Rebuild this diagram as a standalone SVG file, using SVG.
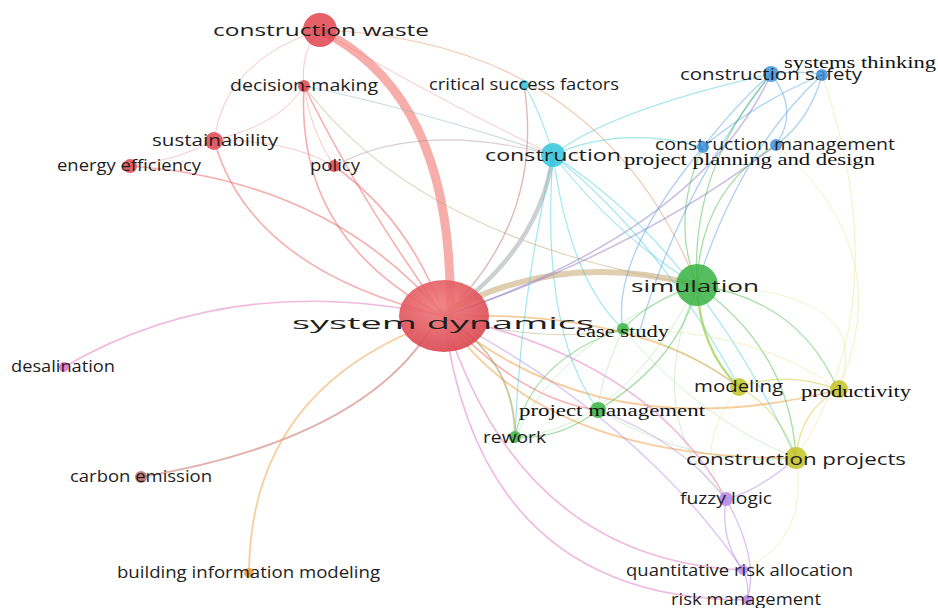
<svg xmlns="http://www.w3.org/2000/svg" width="938" height="608" viewBox="0 0 938 608">
<defs>
<style>
.e{fill:none;stroke-linecap:round}
.r{stroke:#f06b6b;stroke-opacity:.55;stroke-width:1.6}
.rt{stroke:#f07575;stroke-opacity:.4;stroke-width:1}
.c{stroke:#45cfe0;stroke-opacity:.5;stroke-width:1.2}
.b{stroke:#5aa6ea;stroke-opacity:.5;stroke-width:1.3}
.pb{stroke:#9a7fc8;stroke-opacity:.5;stroke-width:1.6}
.g{stroke:#4dbf4d;stroke-opacity:.5;stroke-width:1.3}
.gl{stroke:#7ed27e;stroke-opacity:.35;stroke-width:1}
.y{stroke:#cfd040;stroke-opacity:.55;stroke-width:1.3}
.yl{stroke:#dede70;stroke-opacity:.4;stroke-width:1}
.p{stroke:#b683ea;stroke-opacity:.5;stroke-width:1.3}
.pk{stroke:#e37fc6;stroke-opacity:.55;stroke-width:1.6}
.o{stroke:#f4a24a;stroke-opacity:.55;stroke-width:1.8}
.t{stroke:#b9a66a;stroke-opacity:.5;stroke-width:1.1}
.red{fill:#e0444e;fill-opacity:.85}
.cy{fill:#33c4da;fill-opacity:.85}
.bl{fill:#3f92dc;fill-opacity:.85}
.gr{fill:#39b343;fill-opacity:.85}
.ye{fill:#c3c324;fill-opacity:.85}
.pu{fill:#b585ea;fill-opacity:.85}
.pi{fill:#df6cd0;fill-opacity:.85}
.br{fill:#b86a66;fill-opacity:.85}
.or{fill:#f2a03a;fill-opacity:.9}
text{font-family:"Open Sans","Noto Sans","Liberation Sans",sans-serif;fill:#1e1e1e;font-size:16px}
text.s{font-family:"Liberation Serif","Times New Roman",serif;fill:#111}
</style>
<radialGradient id="sdg" cx="0.45" cy="0.35" r="0.7">
<stop offset="0" stop-color="#f07a7a"/>
<stop offset="1" stop-color="#d8404c"/>
</radialGradient>
</defs>
<rect width="938" height="608" fill="#ffffff"/>
<g id="connectors">
<path class="e" d="M320,30 Q455,95 450,316" stroke="#f4928c" stroke-opacity=".75" stroke-width="9"/>
<path class="e rt" d="M320,30 Q300,50 304,86"/>
<path class="e rt" d="M320,30 Q225,60 214,140"/>
<path class="e rt" d="M320,30 Q420,90 553,155"/>
<path class="e" d="M320,30 Q600,40 697,285" stroke="#e9a27a" stroke-opacity=".6" stroke-width="1.2"/>
<path class="e rt" d="M304,86 Q280,125 214,140"/>
<path class="e rt" d="M304,86 Q310,130 334,166"/>
<path class="e r" d="M304,86 Q295,240 444,316"/>
<path class="e r" d="M304,86 Q360,200 444,316"/>
<path class="e t" d="M304,86 Q420,240 697,285"/>
<path class="e" d="M304,86 Q420,110 553,155" stroke="#8fb8bd" stroke-opacity=".5" stroke-width="1.2"/>
<path class="e rt" d="M214,140 Q290,140 334,166"/>
<path class="e" d="M334,166 Q420,120 553,155" stroke="#bb9fa0" stroke-opacity=".5" stroke-width="1.2"/>
<path class="e rt" d="M214,140 Q180,160 130,166"/>
<path class="e r" d="M214,140 Q250,270 444,316" stroke-width="3"/>
<path class="e r" d="M130,166 Q330,180 444,316" stroke-width="2.2"/>
<path class="e r" d="M334,166 Q410,220 444,316" stroke-width="2.2"/>
<path class="e pk" d="M64,367 Q230,270 444,316" stroke-width="2"/>
<path class="e" d="M141,477 Q360,440 430,330" stroke="#d07a72" stroke-opacity=".6" stroke-width="2"/>
<path class="e o" d="M249,573 Q250,400 415,330" stroke-width="2.2"/>
<path class="e" d="M553,155 Q540,250 444,316" stroke="#c4c8c8" stroke-opacity=".85" stroke-width="4.5"/>
<path class="e" d="M450,310 Q560,250 697,285" stroke="#d2b98f" stroke-opacity=".7" stroke-width="6"/>
<path class="e t" d="M444,316 Q540,345 623,329" stroke-width="1.6"/>
<path class="e o" d="M444,316 Q640,310 739,387" stroke-width="2.5"/>
<path class="e o" d="M444,316 Q600,450 838,390" stroke-width="2.5"/>
<path class="e o" d="M444,316 Q540,460 796,458" stroke-width="5"/>
<path class="e r" d="M444,316 Q520,400 598,410" stroke-width="2"/>
<path class="e" d="M444,316 Q515,360 515,437" stroke="#a9a86a" stroke-opacity=".6" stroke-width="2"/>
<path class="e pk" d="M444,316 Q650,360 726,499" stroke-width="2"/>
<path class="e pk" d="M444,316 Q520,560 743,570" stroke="#e57a9e" stroke-width="1.8"/>
<path class="e pk" d="M444,316 Q480,600 747,600" stroke="#e57a9e" stroke-width="1.8"/>
<path class="e pb" d="M444,316 Q640,250 776,145"/>
<path class="e pb" d="M444,316 Q700,230 771,74" stroke-width="1.3"/>
<path class="e" d="M524,85 Q545,220 444,316" stroke="#c98a86" stroke-opacity=".6" stroke-width="1.4"/>
<path class="e c" d="M553,155 Q540,110 524,85"/>
<path class="e c" d="M553,155 Q620,125 703,147" stroke-width="1.8"/>
<path class="e c" d="M553,155 Q610,110 771,74"/>
<path class="e c" d="M553,155 Q620,240 697,285"/>
<path class="e c" d="M553,155 Q570,280 623,329"/>
<path class="e c" d="M553,155 Q540,330 598,410"/>
<path class="e c" d="M553,155 Q700,250 796,458" stroke-width="1"/>
<path class="e c" d="M553,155 Q660,240 739,387" stroke-width="1"/>
<path class="e c" d="M553,155 Q520,300 515,437" stroke-width="1"/>
<path class="e b" d="M703,147 Q740,100 771,74" stroke-width="1.6"/>
<path class="e b" d="M771,74 Q800,70 822,75"/>
<path class="e b" d="M771,74 Q800,110 776,145"/>
<path class="e b" d="M822,75 Q810,120 776,145"/>
<path class="e b" d="M822,75 Q760,100 703,147"/>
<path class="e b" d="M822,75 Q740,150 697,285" stroke-width="1"/>
<path class="e b" d="M771,74 Q680,190 640,330" stroke-width="1"/>
<path class="e b" d="M703,147 Q610,260 623,329" stroke-width="1"/>
<path class="e g" d="M771,74 Q690,170 697,285"/>
<path class="e g" d="M776,145 Q700,190 697,285"/>
<path class="e g" d="M703,147 Q670,220 697,285"/>
<path class="e g" d="M697,285 Q650,300 623,329"/>
<path class="e" d="M697,285 Q700,350 739,387" stroke="#9ccc4a" stroke-opacity=".7" stroke-width="2.5"/>
<path class="e g" d="M697,285 Q800,300 838,390" stroke-width="1.8"/>
<path class="e g" d="M697,285 Q790,350 796,458" stroke-width="2.2"/>
<path class="e g" d="M598,410 Q680,360 697,285" stroke-width="1.6"/>
<path class="e g" d="M515,437 Q530,360 623,329"/>
<path class="e g" d="M515,437 Q560,440 598,410"/>
<path class="e gl" d="M515,437 Q620,430 697,285"/>
<path class="e gl" d="M697,285 Q640,420 726,499"/>
<path class="e gl" d="M623,329 Q700,420 796,458"/>
<path class="e gl" d="M598,410 Q700,470 796,458"/>
<path class="e gl" d="M623,329 Q690,350 739,387"/>
<path class="e gl" d="M623,329 Q600,380 598,410"/>
<path class="e gl" d="M697,285 Q560,340 515,437"/>
<path class="e y" d="M739,387 Q790,370 838,390"/>
<path class="e y" d="M739,387 Q780,410 796,458"/>
<path class="e y" d="M838,390 Q800,410 796,458"/>
<path class="e yl" d="M697,285 Q880,290 838,390"/>
<path class="e yl" d="M776,145 Q900,250 838,390"/>
<path class="e yl" d="M822,75 Q900,300 796,458"/>
<path class="e yl" d="M623,329 Q760,330 838,390"/>
<path class="e yl" d="M739,387 Q690,450 726,499"/>
<path class="e yl" d="M796,458 Q810,540 743,570"/>
<path class="e p" d="M796,458 Q760,490 726,499" stroke-opacity=".35"/>
<path class="e p" d="M726,499 Q720,540 743,570"/>
<path class="e p" d="M726,499 Q760,560 747,600"/>
<path class="e p" d="M743,570 Q750,585 747,600"/>
<path class="e p" d="M598,410 Q680,440 726,499" stroke-width="1" stroke-opacity=".35"/>
<path class="e p" d="M444,316 Q640,420 743,570" stroke-width="1" stroke-opacity=".35"/>
</g>
<g id="n-construction-waste"><circle class="red" cx="320" cy="30" r="17"/><text x="213" y="36" font-size="22" textLength="216" lengthAdjust="spacingAndGlyphs">construction waste</text></g>
<g id="n-decision-making"><circle class="red" cx="304" cy="86" r="6"/><text x="230" y="91" textLength="148" lengthAdjust="spacingAndGlyphs">decision-making</text></g>
<g id="n-critical-success-factors"><circle class="cy" cx="524" cy="85" r="5"/><text x="429" y="90" textLength="190" lengthAdjust="spacingAndGlyphs">critical success factors</text></g>
<g id="n-sustainability"><circle class="red" cx="214" cy="141" r="9"/><text x="152" y="146" font-size="18" textLength="126" lengthAdjust="spacingAndGlyphs">sustainability</text></g>
<g id="n-energy-efficiency"><circle class="red" cx="130" cy="166" r="7"/><text x="57" y="171" textLength="144" lengthAdjust="spacingAndGlyphs">energy efficiency</text></g>
<g id="n-policy"><circle class="red" cx="334" cy="166" r="6"/><text x="310" y="171" textLength="50" lengthAdjust="spacingAndGlyphs">policy</text></g>
<g id="n-construction"><circle class="cy" cx="553" cy="155" r="12"/><text x="485" y="161" font-size="20" textLength="136" lengthAdjust="spacingAndGlyphs">construction</text></g>
<g id="n-construction-safety"><circle class="bl" cx="771" cy="74" r="8"/><text x="680" y="80" font-size="17" textLength="182" lengthAdjust="spacingAndGlyphs">construction safety</text></g>
<g id="n-systems-thinking"><circle class="bl" cx="822" cy="75" r="6"/><text class="s" x="784" y="68" font-size="19" textLength="152" lengthAdjust="spacingAndGlyphs">systems thinking</text></g>
<g id="n-construction-management"><circle class="bl" cx="776" cy="145" r="6"/><text x="655" y="150" textLength="240" lengthAdjust="spacingAndGlyphs">construction management</text></g>
<g id="n-project-planning-and-design"><circle class="bl" cx="703" cy="147" r="6"/><text class="s" x="624" y="165" font-size="19" textLength="251" lengthAdjust="spacingAndGlyphs">project planning and design</text></g>
<g id="n-system-dynamics"><ellipse cx="444" cy="316" rx="45" ry="36" fill="url(#sdg)" fill-opacity=".9"/><text x="292" y="329" font-size="33" textLength="302" lengthAdjust="spacingAndGlyphs">system dynamics</text></g>
<g id="n-simulation"><circle class="gr" cx="697" cy="285" r="21"/><text x="631" y="292" font-size="24" textLength="128" lengthAdjust="spacingAndGlyphs">simulation</text></g>
<g id="n-case-study"><circle class="gr" cx="623" cy="329" r="6"/><text class="s" x="576" y="337" font-size="18" textLength="93" lengthAdjust="spacingAndGlyphs">case study</text></g>
<g id="n-modeling"><circle class="ye" cx="739" cy="387" r="9"/><text x="694" y="392" font-size="17" textLength="89" lengthAdjust="spacingAndGlyphs">modeling</text></g>
<g id="n-productivity"><circle class="ye" cx="839" cy="389" r="9"/><text class="s" x="801" y="397" font-size="19" textLength="110" lengthAdjust="spacingAndGlyphs">productivity</text></g>
<g id="n-project-management"><circle class="gr" cx="598" cy="410" r="8"/><text class="s" x="519" y="416" font-size="19" textLength="186" lengthAdjust="spacingAndGlyphs">project management</text></g>
<g id="n-rework"><circle class="gr" cx="515" cy="437" r="6"/><text x="483" y="443" textLength="63" lengthAdjust="spacingAndGlyphs">rework</text></g>
<g id="n-construction-projects"><circle class="ye" cx="796" cy="458" r="11"/><text x="686" y="465" font-size="20" textLength="220" lengthAdjust="spacingAndGlyphs">construction projects</text></g>
<g id="n-fuzzy-logic"><circle class="pu" cx="726" cy="499" r="7"/><text x="680" y="504" textLength="92" lengthAdjust="spacingAndGlyphs">fuzzy logic</text></g>
<g id="n-quantitative-risk-allocation"><circle class="pu" cx="743" cy="570" r="5"/><text x="626" y="576" textLength="227" lengthAdjust="spacingAndGlyphs">quantitative risk allocation</text></g>
<g id="n-risk-management"><circle class="pu" cx="747" cy="600" r="5"/><text x="671" y="605" textLength="150" lengthAdjust="spacingAndGlyphs">risk management</text></g>
<g id="n-desalination"><circle class="pi" cx="64" cy="367" r="5"/><text x="11" y="372" textLength="104" lengthAdjust="spacingAndGlyphs">desalination</text></g>
<g id="n-carbon-emission"><circle class="br" cx="141" cy="477" r="6"/><text x="70" y="482" textLength="142" lengthAdjust="spacingAndGlyphs">carbon emission</text></g>
<g id="n-building-information-modeling"><circle class="or" cx="249" cy="573" r="5"/><text x="117" y="578" textLength="263" lengthAdjust="spacingAndGlyphs">building information modeling</text></g>
</svg>
